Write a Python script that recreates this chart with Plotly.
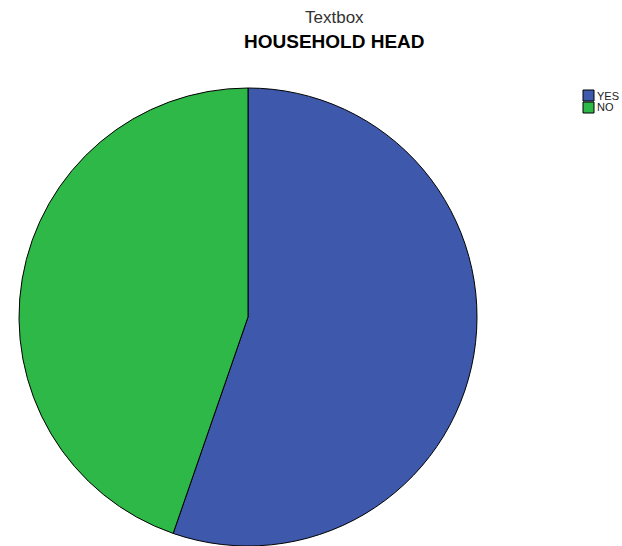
import plotly.graph_objects as go

# Household head responses (percent)
labels = ["YES", "NO"]
values = [55.3, 44.7]
colors = ["#3E58AC", "#2EB848"]

W, H = 622, 546

fig = go.Figure()
fig.add_trace(go.Pie(
    labels=labels,
    values=values,
    sort=False,
    direction="clockwise",
    rotation=0,
    textinfo="none",
    hoverinfo="label+percent",
    marker=dict(colors=colors, line=dict(color="#000000", width=1)),
    domain=dict(x=[19 / W, 477 / W], y=[0, 458 / H]),
    showlegend=False,
))

# Titles
fig.add_annotation(text="Textbox", x=334 / W, y=1 - 17 / H, xref="paper", yref="paper",
                   xanchor="center", yanchor="middle",
                   showarrow=False, font=dict(family="Liberation Sans, Arial", size=17, color="#333333"))
fig.add_annotation(text="<b>HOUSEHOLD HEAD</b>", x=334 / W, y=1 - 42 / H, xref="paper", yref="paper",
                   xanchor="center", yanchor="middle",
                   showarrow=False, font=dict(family="Liberation Sans, Arial", size=19, color="#000000"))

# Legend drawn as swatches with labels
sw_x0, sw_y0, sw, step = 583, 90, 11, 12
for i, (lab, col) in enumerate(zip(labels, colors)):
    y0 = sw_y0 + i * step
    fig.add_shape(type="rect", xref="paper", yref="paper",
                  x0=sw_x0 / W, x1=(sw_x0 + sw) / W,
                  y0=1 - (y0 + sw) / H, y1=1 - y0 / H,
                  fillcolor=col, line=dict(color="#000000", width=1))
    fig.add_annotation(text=lab, x=(sw_x0 + sw + 1) / W, y=1 - (y0 + sw / 2) / H,
                       xref="paper", yref="paper", xanchor="left", yanchor="middle",
                       showarrow=False,
                       font=dict(family="Liberation Sans, Arial", size=11, color="#222222"))

fig.update_layout(
    width=W, height=H,
    margin=dict(l=0, r=0, t=0, b=0),
    paper_bgcolor="white",
    plot_bgcolor="white",
)

fig.write_html("out.html")
